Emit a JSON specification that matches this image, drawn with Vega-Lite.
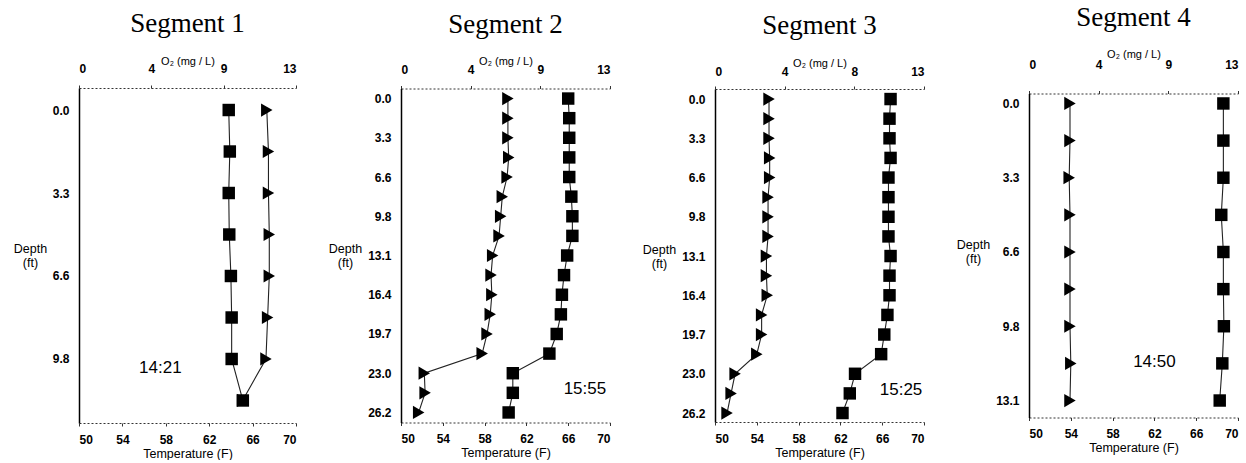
{
  "$schema": "https://vega.github.io/schema/vega-lite/v6.json",
  "background": "white",
  "padding": {"left": 13, "top": 3, "right": 0, "bottom": 0},
  "autosize": {"type": "pad"},
  "datasets": {
    "seg1": [
      {"depth": 0, "temp": 63.8, "o2": 11.25},
      {"depth": 1.64, "temp": 63.9, "o2": 11.35},
      {"depth": 3.28, "temp": 63.8, "o2": 11.35},
      {"depth": 4.92, "temp": 63.85, "o2": 11.4},
      {"depth": 6.56, "temp": 64.0, "o2": 11.4},
      {"depth": 8.2, "temp": 64.07, "o2": 11.3},
      {"depth": 9.84, "temp": 64.07, "o2": 11.2},
      {"depth": 11.48, "temp": 65.1, "o2": 9.8}
    ],
    "seg2": [
      {"depth": 0, "temp": 66.0, "o2": 6.65},
      {"depth": 1.64, "temp": 66.1, "o2": 6.65},
      {"depth": 3.28, "temp": 66.1, "o2": 6.65},
      {"depth": 4.92, "temp": 66.1, "o2": 6.7},
      {"depth": 6.56, "temp": 66.1, "o2": 6.6},
      {"depth": 8.2, "temp": 66.3, "o2": 6.3},
      {"depth": 9.84, "temp": 66.4, "o2": 6.2},
      {"depth": 11.48, "temp": 66.4, "o2": 6.1},
      {"depth": 13.12, "temp": 65.9, "o2": 5.7},
      {"depth": 14.76, "temp": 65.6, "o2": 5.6},
      {"depth": 16.4, "temp": 65.4, "o2": 5.65},
      {"depth": 18.04, "temp": 65.3, "o2": 5.55},
      {"depth": 19.68, "temp": 64.9, "o2": 5.35},
      {"depth": 21.32, "temp": 64.2, "o2": 5.05},
      {"depth": 22.96, "temp": 60.7, "o2": 1.45},
      {"depth": 24.6, "temp": 60.7, "o2": 1.5},
      {"depth": 26.24, "temp": 60.3, "o2": 1.1}
    ],
    "seg3": [
      {"depth": 0, "temp": 66.8, "o2": 3.36},
      {"depth": 1.64, "temp": 66.7, "o2": 3.36},
      {"depth": 3.28, "temp": 66.7, "o2": 3.36},
      {"depth": 4.92, "temp": 66.8, "o2": 3.4},
      {"depth": 6.56, "temp": 66.6, "o2": 3.4},
      {"depth": 8.2, "temp": 66.6, "o2": 3.3},
      {"depth": 9.84, "temp": 66.6, "o2": 3.3},
      {"depth": 11.48, "temp": 66.6, "o2": 3.3},
      {"depth": 13.12, "temp": 66.8, "o2": 3.2},
      {"depth": 14.76, "temp": 66.7, "o2": 3.2},
      {"depth": 16.4, "temp": 66.7, "o2": 3.25},
      {"depth": 18.04, "temp": 66.5, "o2": 2.9},
      {"depth": 19.68, "temp": 66.2, "o2": 2.9},
      {"depth": 21.32, "temp": 65.9, "o2": 2.6},
      {"depth": 22.96, "temp": 63.4, "o2": 1.25},
      {"depth": 24.6, "temp": 62.9, "o2": 1.0},
      {"depth": 26.24, "temp": 62.2, "o2": 0.75}
    ],
    "seg4": [
      {"depth": 0, "temp": 68.6, "o2": 2.55},
      {"depth": 1.64, "temp": 68.6, "o2": 2.55},
      {"depth": 3.28, "temp": 68.6, "o2": 2.5},
      {"depth": 4.92, "temp": 68.4, "o2": 2.55},
      {"depth": 6.56, "temp": 68.6, "o2": 2.55},
      {"depth": 8.2, "temp": 68.6, "o2": 2.55},
      {"depth": 9.84, "temp": 68.65, "o2": 2.55},
      {"depth": 11.48, "temp": 68.5, "o2": 2.6},
      {"depth": 13.12, "temp": 68.25, "o2": 2.55}
    ]
  },
  "spacing": 105,
  "bounds": "flush",
  "center": true,
  "hconcat": [
    {
      "width": 217, "height": 335,
      "title": {"text": "Segment 1"},
      "data": {"name": "seg1"},
      "encoding": {
        "y": {"field": "depth", "type": "quantitative",
          "scale": {"domain": [-0.87, 12.37], "reverse": true, "nice": false, "zero": false},
          "axis": {"values": [0, 3.28, 6.56, 9.84], "format": ".1f", "title": ["Depth", "(ft)"], "titleX": -49, "titleY": 160}}
      },
      "layer": [
        {
          "encoding": {"x": {"field": "o2", "type": "quantitative",
            "scale": {"domain": [0, 13], "nice": false, "zero": false},
            "axis": {"orient": "top", "title": "O₂ (mg / L)", "values": [0, 4.3333, 8.6667, 13], "labelExpr": "datum.value == 0 ? '0' : datum.value < 5 ? '4' : datum.value < 10 ? '9' : '13'", "titleY": -24, "labelPadding": 10}}},
          "layer": [
            {"mark": {"type": "line", "color": "#222", "strokeWidth": 1.1}, "encoding": {"order": {"field": "depth", "type": "quantitative"}}},
            {"mark": {"type": "point", "shape": "triangle-right", "filled": true, "size": 175, "color": "black", "opacity": 1}}
          ]
        },
        {
          "encoding": {"x": {"field": "temp", "type": "quantitative",
            "scale": {"domain": [50, 70], "nice": false, "zero": false},
            "axis": {"orient": "bottom", "title": "Temperature (F)", "values": [50, 54, 58, 62, 66, 70]}}},
          "layer": [
            {"mark": {"type": "line", "color": "#222", "strokeWidth": 1.1}, "encoding": {"order": {"field": "depth", "type": "quantitative"}}},
            {"mark": {"type": "point", "shape": "square", "filled": true, "size": 155, "color": "black", "opacity": 1}},
            {"data": {"values": [{"temp": 57.5, "depth": 10.2, "label": "14:21"}]},
             "mark": {"type": "text", "font": "Liberation Sans", "fontSize": 17, "align": "center", "baseline": "middle", "color": "black"},
             "encoding": {"text": {"field": "label"}}}
          ]
        }
      ],
      "resolve": {"scale": {"x": "independent"}, "axis": {"x": "independent"}}
    },
    {
      "width": 209, "height": 334,
      "title": {"text": "Segment 2"},
      "data": {"name": "seg2"},
      "encoding": {
        "y": {"field": "depth", "type": "quantitative",
          "scale": {"domain": [-0.84, 27.08], "reverse": true, "nice": false, "zero": false},
          "axis": {"values": [0, 3.28, 6.56, 9.84, 13.12, 16.4, 19.68, 22.96, 26.24], "format": ".1f", "title": ["Depth", "(ft)"], "titleX": -56, "titleY": 160}}
      },
      "layer": [
        {
          "encoding": {"x": {"field": "o2", "type": "quantitative",
            "scale": {"domain": [0, 13], "nice": false, "zero": false},
            "axis": {"orient": "top", "title": "O₂ (mg / L)", "values": [0, 4.3333, 8.6667, 13], "labelExpr": "datum.value == 0 ? '0' : datum.value < 5 ? '4' : datum.value < 10 ? '9' : '13'", "titleY": -24, "labelPadding": 9}}},
          "layer": [
            {"mark": {"type": "line", "color": "#222", "strokeWidth": 1.1}, "encoding": {"order": {"field": "depth", "type": "quantitative"}}},
            {"mark": {"type": "point", "shape": "triangle-right", "filled": true, "size": 175, "color": "black", "opacity": 1}}
          ]
        },
        {
          "encoding": {"x": {"field": "temp", "type": "quantitative",
            "scale": {"domain": [50, 70], "nice": false, "zero": false},
            "axis": {"orient": "bottom", "title": "Temperature (F)", "values": [50, 54, 58, 62, 66, 70]}}},
          "layer": [
            {"mark": {"type": "line", "color": "#222", "strokeWidth": 1.1}, "encoding": {"order": {"field": "depth", "type": "quantitative"}}},
            {"mark": {"type": "point", "shape": "square", "filled": true, "size": 155, "color": "black", "opacity": 1}},
            {"data": {"values": [{"temp": 67.6, "depth": 24.3, "label": "15:55"}]},
             "mark": {"type": "text", "font": "Liberation Sans", "fontSize": 17, "align": "center", "baseline": "middle", "color": "black"},
             "encoding": {"text": {"field": "label"}}}
          ]
        }
      ],
      "resolve": {"scale": {"x": "independent"}, "axis": {"x": "independent"}}
    },
    {
      "width": 209, "height": 333,
      "title": {"text": "Segment 3"},
      "data": {"name": "seg3"},
      "encoding": {
        "y": {"field": "depth", "type": "quantitative",
          "scale": {"domain": [-0.84, 26.99], "reverse": true, "nice": false, "zero": false},
          "axis": {"values": [0, 3.28, 6.56, 9.84, 13.12, 16.4, 19.68, 22.96, 26.24], "format": ".1f", "title": ["Depth", "(ft)"], "titleX": -56, "titleY": 160}}
      },
      "layer": [
        {
          "encoding": {"x": {"field": "o2", "type": "quantitative",
            "scale": {"domain": [0, 13], "nice": false, "zero": false},
            "axis": {"orient": "top", "title": "O₂ (mg / L)", "values": [0, 4.3333, 8.6667, 13], "labelExpr": "datum.value == 0 ? '0' : datum.value < 5 ? '4' : datum.value < 10 ? '8' : '13'", "titleY": -23, "labelPadding": 8}}},
          "layer": [
            {"mark": {"type": "line", "color": "#222", "strokeWidth": 1.1}, "encoding": {"order": {"field": "depth", "type": "quantitative"}}},
            {"mark": {"type": "point", "shape": "triangle-right", "filled": true, "size": 175, "color": "black", "opacity": 1}}
          ]
        },
        {
          "encoding": {"x": {"field": "temp", "type": "quantitative",
            "scale": {"domain": [50, 70], "nice": false, "zero": false},
            "axis": {"orient": "bottom", "title": "Temperature (F)", "values": [50, 54, 58, 62, 66, 70]}}},
          "layer": [
            {"mark": {"type": "line", "color": "#222", "strokeWidth": 1.1}, "encoding": {"order": {"field": "depth", "type": "quantitative"}}},
            {"mark": {"type": "point", "shape": "square", "filled": true, "size": 155, "color": "black", "opacity": 1}},
            {"data": {"values": [{"temp": 67.8, "depth": 24.3, "label": "15:25"}]},
             "mark": {"type": "text", "font": "Liberation Sans", "fontSize": 17, "align": "center", "baseline": "middle", "color": "black"},
             "encoding": {"text": {"field": "label"}}}
          ]
        }
      ],
      "resolve": {"scale": {"x": "independent"}, "axis": {"x": "independent"}}
    },
    {
      "width": 209, "height": 324,
      "title": {"text": "Segment 4"},
      "data": {"name": "seg4"},
      "encoding": {
        "y": {"field": "depth", "type": "quantitative",
          "scale": {"domain": [-0.44, 13.87], "reverse": true, "nice": false, "zero": false},
          "axis": {"values": [0, 3.28, 6.56, 9.84, 13.12], "format": ".1f", "title": ["Depth", "(ft)"], "titleX": -56, "titleY": 151}}
      },
      "layer": [
        {
          "encoding": {"x": {"field": "o2", "type": "quantitative",
            "scale": {"domain": [0, 13], "nice": false, "zero": false},
            "axis": {"orient": "top", "title": "O₂ (mg / L)", "values": [0, 4.3333, 8.6667, 13], "labelExpr": "datum.value == 0 ? '0' : datum.value < 5 ? '4' : datum.value < 10 ? '9' : '13'", "titleY": -36, "labelPadding": 19}}},
          "layer": [
            {"mark": {"type": "line", "color": "#222", "strokeWidth": 1.1}, "encoding": {"order": {"field": "depth", "type": "quantitative"}}},
            {"mark": {"type": "point", "shape": "triangle-right", "filled": true, "size": 175, "color": "black", "opacity": 1}}
          ]
        },
        {
          "encoding": {"x": {"field": "temp", "type": "quantitative",
            "scale": {"domain": [50, 70], "nice": false, "zero": false},
            "axis": {"orient": "bottom", "title": "Temperature (F)", "values": [50, 54, 58, 62, 66, 70]}}},
          "layer": [
            {"mark": {"type": "line", "color": "#222", "strokeWidth": 1.1}, "encoding": {"order": {"field": "depth", "type": "quantitative"}}},
            {"mark": {"type": "point", "shape": "square", "filled": true, "size": 155, "color": "black", "opacity": 1}},
            {"data": {"values": [{"temp": 62.0, "depth": 11.4, "label": "14:50"}]},
             "mark": {"type": "text", "font": "Liberation Sans", "fontSize": 17, "align": "center", "baseline": "middle", "color": "black"},
             "encoding": {"text": {"field": "label"}}}
          ]
        }
      ],
      "resolve": {"scale": {"x": "independent"}, "axis": {"x": "independent"}}
    }
  ],
  "config": {
    "view": {"stroke": null},
    "title": {"font": "Liberation Serif", "fontSize": 27, "fontWeight": "normal", "color": "black", "anchor": "middle", "baseline": "alphabetic", "offset": 17},
    "axis": {"grid": false, "labelFont": "Liberation Sans", "labelFontWeight": "bold", "labelFontSize": 12, "labelColor": "black",
      "titleFont": "Liberation Sans", "titleFontWeight": "normal", "titleColor": "black", "titleFontSize": 12.5,
      "domainColor": "#333", "tickColor": "#333", "tickSize": 3},
    "axisX": {"domainDash": [2, 2], "domainWidth": 1},
    "axisBottom": {"labelPadding": 8, "titleY": 34, "titleBaseline": "alphabetic"},
    "axisTop": {"titleFontSize": 11, "titleBaseline": "alphabetic"},
    "axisY": {"ticks": false, "labelPadding": 10, "domainColor": "black", "domainWidth": 1.5, "titleAngle": 0, "titleAlign": "center", "titleBaseline": "middle", "titleLineHeight": 14, "titleFontSize": 12.5}
  }
}
